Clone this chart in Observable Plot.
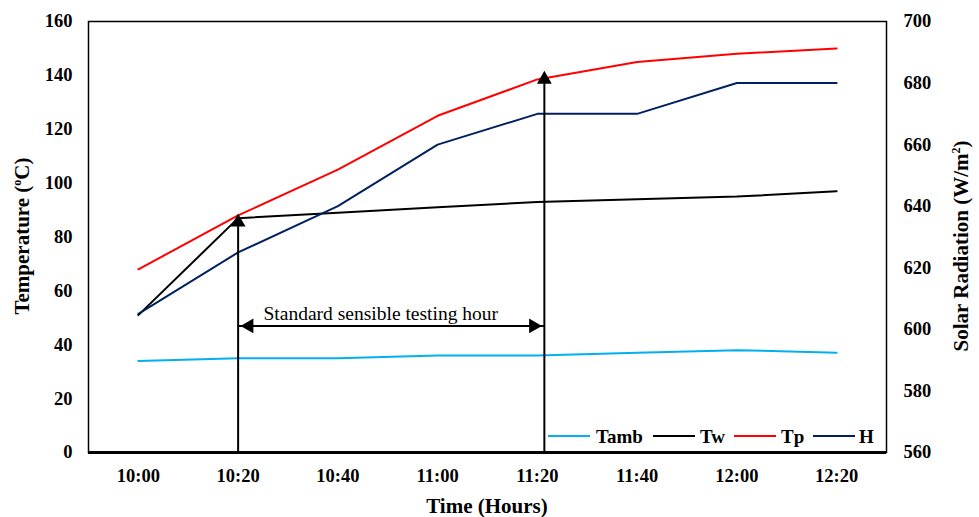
<!DOCTYPE html>
<html>
<head>
<meta charset="utf-8">
<script src="https://cdn.jsdelivr.net/npm/d3@7"></script>
<script src="https://cdn.jsdelivr.net/npm/@observablehq/plot@0.6"></script>
<style>
  html, body { margin: 0; padding: 0; background: #fff; }
  #chart { position: relative; width: 979px; height: 517px; }
</style>
</head>
<body>
<div id="chart"></div>
<script>
const times = ["10:00", "10:20", "10:40", "11:00", "11:20", "11:40", "12:00", "12:20"];
const tamb = [34, 35, 35, 36, 36, 37, 38, 37];
const tw = [51, 87, 89, 91, 93, 94, 95, 97];
const tp = [68, 88, 105, 125, 138.5, 145, 148, 150];
const hRad = [605, 625, 640, 660, 670, 670, 680, 680];
const tempTicks = [0, 20, 40, 60, 80, 100, 120, 140, 160];
const radTicks = [560, 580, 600, 620, 640, 660, 680, 700];
const seriesNames = ["Tamb", "Tw", "Tp", "H"];
const seriesColors = ["#00B0F0", "#000000", "#FF0000", "#002060"];
const noteText = "Standard sensible testing hour";

const FONT = '"Liberation Serif", "Times New Roman", serif';

// right-axis (radiation) mapped onto temperature scale
const radMin = 560, radMax = 700, tMin = 0, tMax = 160;
const radToT = v => (v - radMin) * (tMax - tMin) / (radMax - radMin) + tMin;

const rows = [];
times.forEach((t, i) => {
  rows.push({i, s: "Tamb", v: tamb[i]});
  rows.push({i, s: "Tw", v: tw[i]});
  rows.push({i, s: "Tp", v: tp[i]});
  rows.push({i, s: "H", v: radToT(hRad[i])});
});

// annotation arrows (data units)
const arrowX1 = 1, arrowX2 = 4.07;
const vArrows = [{x: arrowX1, y1: 0, y2: 87}, {x: arrowX2, y1: 0, y2: 140}];
const hArrow = {y: 47, x1: arrowX1, x2: arrowX2};
const heads = [
  {x: arrowX1, y: 85.5, r: 0},
  {x: arrowX2, y: 138.5, r: 0},
  {x: arrowX1 + 0.11, y: hArrow.y, r: -90},
  {x: arrowX2 - 0.11, y: hArrow.y, r: 90}
];

const plot = Plot.plot({
  width: 979,
  height: 517,
  marginLeft: 88,
  marginRight: 93,
  marginTop: 21,
  marginBottom: 65,
  x: {type: "linear", domain: [-0.5, 7.5]},
  y: {domain: [0, 160]},
  color: {domain: seriesNames, range: seriesColors},
  style: {fontFamily: FONT, fontSize: "18px", fontWeight: "bold", color: "#000", background: "#fff"},
  marks: [
    Plot.axisX({ticks: d3.range(times.length), tickFormat: i => times[i], tickSize: 0, tickPadding: 16, label: null, fontSize: 18.5, fontWeight: "bold", fontFamily: FONT}),
    Plot.axisY({ticks: tempTicks, tickSize: 0, tickPadding: 16, label: null, fontSize: 18.5, fontWeight: "bold", fontFamily: FONT}),
    Plot.axisY({anchor: "right", ticks: radTicks.map(radToT), tickFormat: v => String(Math.round(v * (radMax - radMin) / (tMax - tMin) + radMin)), tickSize: 0, tickPadding: 17, label: null, fontSize: 18.5, fontWeight: "bold", fontFamily: FONT}),
    Plot.line(rows, {x: "i", y: "v", z: "s", stroke: "s", strokeWidth: 2}),
    Plot.ruleX(vArrows, {x: "x", y1: "y1", y2: "y2", stroke: "#000", strokeWidth: 2}),
    Plot.ruleY([hArrow], {y: "y", x1: "x1", x2: "x2", stroke: "#000", strokeWidth: 2}),
    Plot.dot(heads, {x: "x", y: "y", rotate: "r", symbol: "triangle", r: 5.5, fill: "#000", stroke: "none"}),
    Plot.text([noteText], {x: 2.43, y: 51.5, text: d => d, fontSize: 19.5, fontWeight: "normal", fontFamily: FONT, fill: "#000"}),
    Plot.frame({stroke: "#000", strokeWidth: 1.5}),
    Plot.ruleY([0], {stroke: "#000", strokeWidth: 3})
  ]
});

document.getElementById("chart").appendChild(plot);

const svg = d3.select(plot);
// axis titles
const lt = svg.append("text")
  .attr("transform", "translate(29,236) rotate(-90)")
  .attr("text-anchor", "middle").attr("font-family", FONT)
  .attr("font-size", 21).attr("font-weight", "bold").attr("fill", "#000");
lt.append("tspan").text("Temperature (");
lt.append("tspan").attr("font-size", 12).attr("dy", -8).text("o");
lt.append("tspan").attr("dy", 8).text("C)");

const rt = svg.append("text")
  .attr("transform", "translate(968,246) rotate(-90)")
  .attr("text-anchor", "middle").attr("font-family", FONT)
  .attr("font-size", 21).attr("font-weight", "bold").attr("fill", "#000");
rt.append("tspan").text("Solar Radiation (W/m");
rt.append("tspan").attr("font-size", 12).attr("dy", -8).text("2");
rt.append("tspan").attr("dy", 8).text(")");

svg.append("text")
  .attr("x", 487).attr("y", 513)
  .attr("text-anchor", "middle").attr("font-family", FONT)
  .attr("font-size", 21).attr("font-weight", "bold").attr("fill", "#000")
  .text("Time (Hours)");

// legend inside plot area
const legendItems = [
  {lx: 548, tx: 596},
  {lx: 653, tx: 700},
  {lx: 734, tx: 781},
  {lx: 813, tx: 859}
];
const lg = svg.append("g");
seriesNames.forEach((name, k) => {
  const it = legendItems[k];
  lg.append("line").attr("x1", it.lx).attr("x2", it.lx + 42).attr("y1", 436).attr("y2", 436)
    .attr("stroke", seriesColors[k]).attr("stroke-width", 2);
  lg.append("text").attr("x", it.tx).attr("y", 442.5).attr("text-anchor", "start").attr("font-family", FONT)
    .attr("font-size", 19).attr("font-weight", "bold").attr("fill", "#000").text(name);
});
</script>
</body>
</html>
